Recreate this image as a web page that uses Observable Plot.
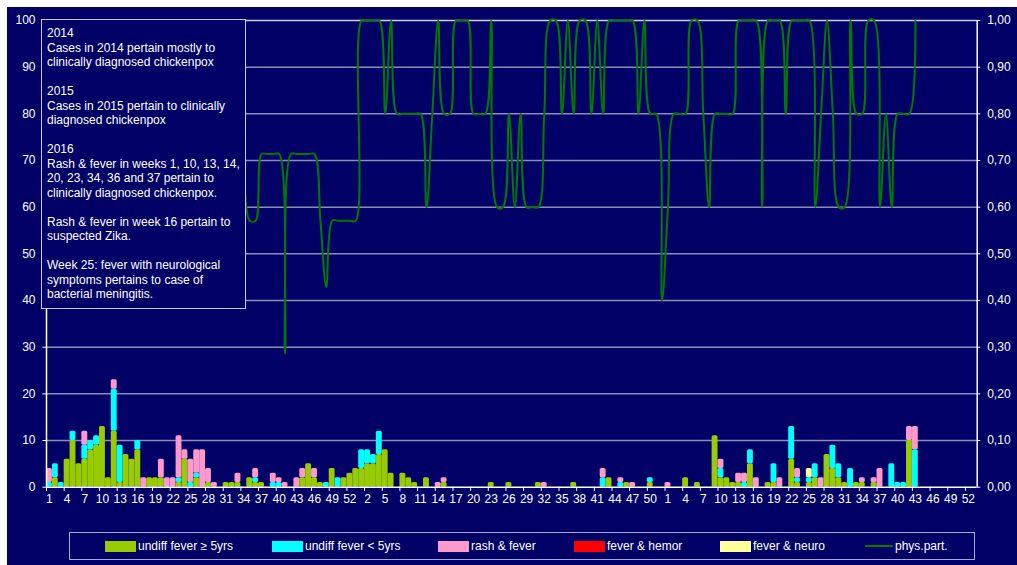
<!DOCTYPE html>
<html><head><meta charset="utf-8">
<script src="https://cdn.jsdelivr.net/npm/d3@7"></script>
<script src="https://cdn.jsdelivr.net/npm/@observablehq/plot@0.6"></script>
<style>
html,body{margin:0;padding:0;background:#fff;width:1017px;height:565px;overflow:hidden;}
#frame{position:absolute;left:7px;top:7px;width:1010px;height:558px;background:#000066;}
#chart{position:absolute;left:0;top:0;}
#note{position:absolute;left:41px;top:19px;width:205px;height:290px;border:1px solid #c8c8d8;background:#000066;color:#fff;
  font:12px "Liberation Sans",Arial,sans-serif;line-height:14.5px;padding:6px 0 0 5px;box-sizing:border-box;white-space:nowrap;}
#legend{position:absolute;left:69px;top:532px;width:906px;height:28px;border:1px solid #a8a8c8;box-sizing:border-box;
  font:12px "Liberation Sans",Arial,sans-serif;color:#fff;}
.li{position:absolute;top:0;height:26px;display:flex;align-items:center;white-space:nowrap;}
.sw{width:31px;height:11px;margin-right:2px;}
.ln{width:28px;height:2px;margin-right:2px;background:#007a00;}
</style></head><body>
<div id="frame"></div><div id="chart"></div><div id="note"></div><div id="legend"></div>
<script>
// ---------- categories ----------
const years = [2014, 2015, 2016];
const weeksInYear = [53, 52, 53];

// ---------- series ----------
const seriesNames = ["undiff fever \u2265 5yrs", "undiff fever < 5yrs", "rash & fever", "fever & hemor", "fever & neuro"];
const seriesColors = ["#99cc00", "#00ffff", "#ff99cc", "#ff0000", "#ffff99"];
const lineName = "phys.part.";

// undiff fever >= 5yrs
const over5_2014 = [0,2,0,6,10,5,6,8,9,13, 2,12,1,7,6,8,0,2,2,2, 0,0,1,6,0,2,0,1,0,0, 1,1,1,0,2,1,1,0,0,0, 0,0,0,2,5,2,1,0,4,0, 2,3,4];
const over5_2015 = [4,5,5,7,8,3,0,3,2,1, 0,2,0,0,1,0,0,0,0,0, 0,0,1,0,0,1,0,0,0,0, 1,0,0,0,0,0,1,0,0,0, 0,0,2,0,0,1,0,0,0,1, 0,0];
const over5_2016 = [0,0,0,2,0,1,0,0,11,2, 2,1,1,0,5,0,0,1,1,0, 0,6,1,0,1,2,0,7,4,2, 1,0,1,1,0,1,0,0,0,0, 0,10,0,0,0,0,0,0,0,0, 0,0,0];
// undiff fever < 5yrs
const under5_2014 = [1,3,1,0,2,0,3,2,2,0, 0,9,8,0,0,2,0,0,0,0, 0,0,1,0,1,1,0,0,0,0, 0,0,0,0,0,1,0,0,1,1, 0,0,0,0,0,0,0,1,0,2, 0,0,0];
const under5_2015 = [4,3,2,5,0,0,0,0,0,0, 0,0,0,0,0,0,0,0,0,0, 0,0,0,0,0,0,0,0,0,0, 0,0,0,0,0,0,0,0,0,0, 0,2,0,0,1,0,0,0,0,1, 0,0];
const under5_2016 = [0,0,0,0,0,0,0,0,0,2, 0,0,0,1,3,0,0,0,4,0, 0,7,1,0,1,3,0,0,5,3, 0,4,0,0,0,0,0,0,5,1, 1,0,8,0,0,0,0,0,0,0, 0,0,0];
// rash & fever
const rash_2014 = [3,0,0,0,0,0,3,0,0,0, 0,2,0,0,0,0,2,0,0,4, 2,2,9,2,5,5,8,3,1,0, 0,0,2,0,0,2,0,0,2,1, 1,0,2,2,0,2,0,0,0,0, 0,0,0];
const rash_2015 = [0,0,0,0,0,0,0,0,0,0, 0,0,0,1,1,0,0,0,0,0, 0,0,0,0,0,0,0,0,0,0, 0,1,0,0,0,0,0,0,0,0, 0,2,0,0,1,0,1,0,0,0, 0,0];
const rash_2016 = [1,0,0,0,0,0,0,0,0,2, 0,0,2,2,0,2,0,0,0,2, 0,0,2,0,0,0,2,0,0,0, 0,0,0,1,0,1,4,0,0,0, 0,3,5,0,0,0,0,0,0,0, 0,0,0];
// fever & hemor (none reported)
const hemor_2014 = Array(53).fill(0);
const hemor_2015 = Array(52).fill(0);
const hemor_2016 = Array(53).fill(0);
// fever & neuro
const neuro_2014 = Array(53).fill(0);
const neuro_2015 = Array(52).fill(0);
const neuro_2016 = [0,0,0,0,0,0,0,0,0,0, 0,0,0,0,0,0,0,0,0,0, 0,0,0,0,2,0,0,0,0,0, 0,0,0,0,0,0,0,0,0,0, 0,0,0,0,0,0,0,0,0,0, 0,0,0];
// physician participation (right axis); null = not visible / not reported
const phys_2014 = [null,null,null,null,null,null,null,null,null,null, null,null,null,null,null,null,null,null,null,null,
  null,null,null,null,null,null,null,null,null,null, null,null,null,0.714,0.571,0.571,0.714,0.714,0.714,0.714,
  0.286,0.714,0.714,0.714,0.714,0.714,0.571,0.429,0.571,0.571, 0.571,0.571,0.571];
const phys_2015 = [1,1,1,1,0.8,1,0.8,0.8,0.8,0.8, 0.8,0.6,0.8,1,0.8,0.8,1,1,1,0.8, 0.8,0.8,1,0.6,0.6,0.8,0.6,0.8,0.6,0.6,
  0.6,0.8,1,1,0.8,1,0.8,1,1,0.8, 1,0.8,1,1,1,1,1,0.8,1,0.8, 0.8,0.4];
const phys_2016 = [0.6,0.8,0.8,0.8,1,1,0.8,0.6,0.8,0.8, 0.8,0.8,1,1,1,1,0.6,1,1,1, 0.8,1,1,1,1,0.6,0.8,1,0.8,0.6,
  0.6,1,0.8,0.8,1,1,0.6,0.8,0.6,0.8, 0.8,0.8,1,null,null,null,null,null,null,null, null,null,null];

const noteLines = [
  "2014", "Cases in 2014 pertain mostly to", "clinically diagnosed chickenpox", "",
  "2015", "Cases in 2015 pertain to clinically", "diagnosed chickenpox", "",
  "2016", "Rash & fever in weeks 1, 10, 13, 14,", "20, 23, 34, 36 and 37 pertain to", "clinically diagnosed chickenpox.", "",
  "Rash & fever in week 16 pertain to", "suspected Zika.", "",
  "Week 25: fever with neurological", "symptoms pertains to case of", "bacterial meningitis."
];

const leftTicks = [0,10,20,30,40,50,60,70,80,90,100];

// ---------- build tables ----------
const weekLabels = years.flatMap((y, k) => d3.range(1, weeksInYear[k] + 1));
const N = weekLabels.length;
const seriesData = [
  [...over5_2014, ...over5_2015, ...over5_2016],
  [...under5_2014, ...under5_2015, ...under5_2016],
  [...rash_2014, ...rash_2015, ...rash_2016],
  [...hemor_2014, ...hemor_2015, ...hemor_2016],
  [...neuro_2014, ...neuro_2015, ...neuro_2016]
];
const phys = [...phys_2014, ...phys_2015, ...phys_2016];

const rects = [];
for (let i = 0; i < N; i++) {
  let cum = 0;
  seriesNames.forEach((s, k) => {
    const v = seriesData[k][i];
    if (v > 0) { rects.push({i, y1: cum, y2: cum + v, series: s}); cum += v; }
  });
}
const physRows = phys.map((v, i) => ({i, v}));
const labelRows = weekLabels.map((w, i) => ({i, w})).filter(d => d.i % 3 === 0);
const tickRows = d3.range(0, N, 3);

const white = "#ffffff";
const chart = Plot.plot({
  width: 1017, height: 517,
  marginLeft: 46, marginRight: 40.3, marginTop: 20, marginBottom: 30.3,
  x: {type: "linear", domain: [0, N], axis: null},
  y: {domain: [0, 100], axis: null},
  color: {domain: seriesNames, range: seriesColors},
  style: {background: "transparent", color: white, fontFamily: "'Liberation Sans', Arial, sans-serif", fontSize: "12px", overflow: "visible"},
  marks: [
    Plot.ruleY(leftTicks.filter(t => t > 0 && t < 100), {stroke: "#8c8cb4", strokeWidth: 1.5}),
    Plot.ruleY([100], {stroke: "#d0d0e0", strokeWidth: 1.5}),
    Plot.rect(rects, {x1: d => d.i, x2: d => d.i + 1, y1: "y1", y2: "y2", fill: "series", rx: 1.5}),
    Plot.line(physRows, {x: d => d.i + 0.5, y: d => d.v == null ? NaN : d.v * 100, stroke: "#007a00", strokeWidth: 2, curve: "catmull-rom"}),
    Plot.ruleX([0, N], {y1: 0, y2: 100, stroke: white, strokeWidth: 1.5}),
    Plot.ruleY([0], {x1: 0, x2: N, stroke: white, strokeWidth: 1.5}),
    Plot.ruleX(tickRows, {y1: 0, y2: -0.9, stroke: white, strokeWidth: 1}),
    Plot.ruleY(leftTicks, {x1: -0.6, x2: 0, stroke: white, strokeWidth: 1}),
    Plot.ruleY(leftTicks, {x1: N, x2: N + 0.6, stroke: white, strokeWidth: 1}),
    Plot.text(labelRows, {x: d => d.i + 0.5, y: 0, text: d => String(d.w), dy: 12, fill: white, fontSize: 12}),
    Plot.text(leftTicks, {x: 0, y: d => d, text: d => String(d), dx: -11, textAnchor: "end", fill: white, fontSize: 12}),
    Plot.text(leftTicks, {x: N, y: d => d, text: d => (d / 100).toFixed(2).replace(".", ","), dx: 10, textAnchor: "start", fill: white, fontSize: 12})
  ]
});
document.getElementById("chart").appendChild(chart);

// note box
document.getElementById("note").innerHTML = noteLines.map(l => l === "" ? "&nbsp;" : l.replace(/&/g, "&amp;").replace(/</g, "&lt;")).join("<br>");

// legend
const legendX = [35, 202, 368, 504, 650, 795];
const leg = document.getElementById("legend");
seriesNames.forEach((s, k) => {
  const d = document.createElement("div");
  d.className = "li"; d.style.left = legendX[k] + "px";
  const sw = document.createElement("span"); sw.className = "sw"; sw.style.background = seriesColors[k];
  const t = document.createElement("span"); t.textContent = s;
  d.appendChild(sw); d.appendChild(t); leg.appendChild(d);
});
{
  const d = document.createElement("div");
  d.className = "li"; d.style.left = legendX[5] + "px";
  const sw = document.createElement("span"); sw.className = "ln";
  const t = document.createElement("span"); t.textContent = lineName;
  d.appendChild(sw); d.appendChild(t); leg.appendChild(d);
}
</script></body></html>
